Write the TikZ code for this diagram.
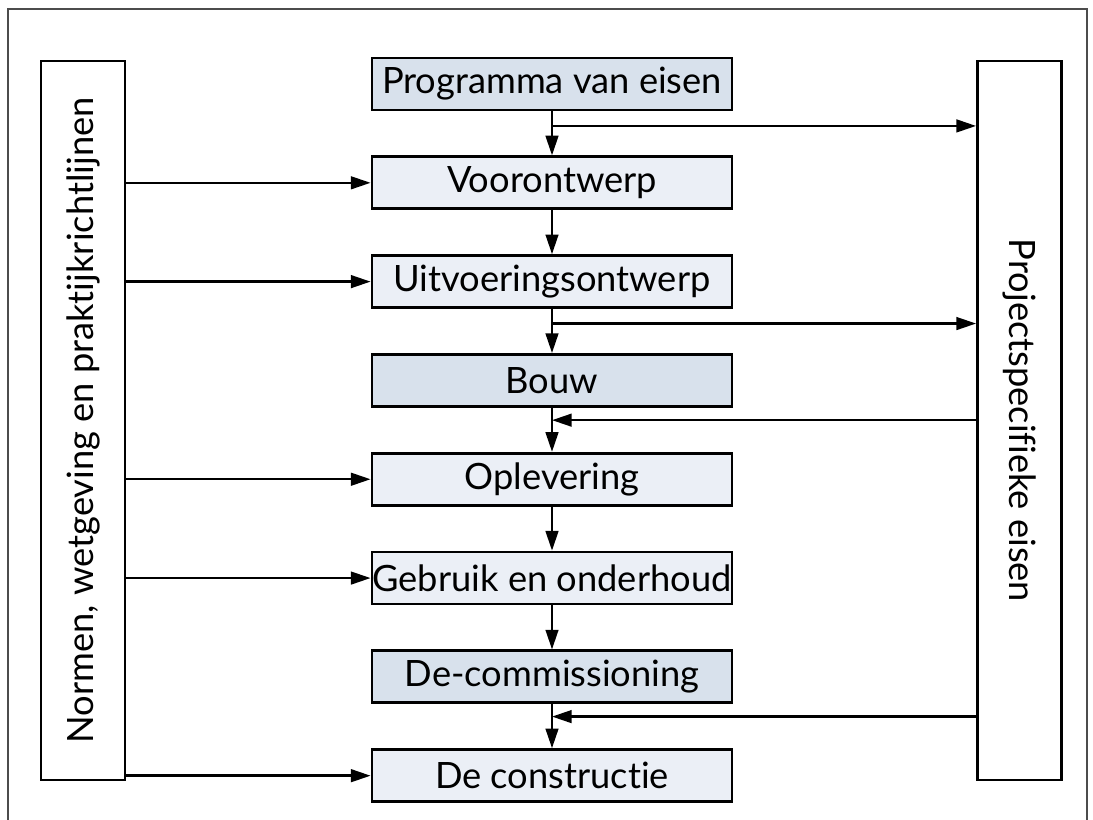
\documentclass[tikz,border=0pt]{standalone}
\usepackage{fontspec}
\setmainfont[Ligatures={NoCommon}]{Lato}
\usetikzlibrary{positioning,arrows.meta,calc}
\definecolor{stapdonker}{RGB}{216,225,236}
\definecolor{staplicht}{RGB}{235,239,246}
\tikzset{
  stap/.style={draw, line width=2pt, minimum width=9cm, minimum height=1.3cm,
    inner sep=0pt, font=\fontsize{25.8}{28}\selectfont},
  zijbalk/.style={draw, line width=2pt, minimum width=2.1cm, minimum height=17.975cm,
    inner sep=0pt, font=\fontsize{25.8}{28}\selectfont},
  pijl/.style={line width=1.7pt, -{Triangle[length=14pt,width=9pt]}},
}
\begin{document}
\begin{tikzpicture}[node distance=1.1cm]
        \useasboundingbox (0,0) rectangle (27.325,-20.5);
        % kader, onderkant open
        \draw[gray!60!black, line width=1pt] (0.2,-20.5) -- (0.2,-0.225) -- (27.175,-0.225) -- (27.175,-20.5);

        % de stappen
        \node[stap, fill=stapdonker] (pve) at (13.8,-2.1) {Programma van eisen};
        \node[stap, fill=staplicht, below=of pve] (vo) {Voorontwerp};
        \node[stap, fill=staplicht, below=of vo] (uo) {Uitvoeringsontwerp};
        \node[stap, fill=stapdonker, below=of uo] (bouw) {Bouw};
        \node[stap, fill=staplicht, below=of bouw] (opl) {Oplevering};
        \node[stap, fill=staplicht, below=of opl] (gebr) {Gebruik en onderhoud};
        \node[stap, fill=stapdonker, below=of gebr] (dec) {De-commissioning};
        \node[stap, fill=staplicht, below=of dec] (constr) {De constructie};

        % zijbalken
        \node[zijbalk] (normen) at (2.075,-10.5125) {\rotatebox{90}{Normen, wetgeving en praktijkrichtlijnen}};
        \node[zijbalk] (eisen) at (25.4875,-10.5125) {\rotatebox{-90}{Projectspecifieke eisen}};

        \foreach \a/\b in {pve/vo, vo/uo, uo/bouw, bouw/opl, opl/gebr, gebr/dec, dec/constr}
            \draw[pijl] (\a) -- (\b);

        \foreach \s in {vo, uo, opl, gebr, constr}
            \draw[pijl] (normen.east |- \s.west) -- (\s.west);

        % naar en van de projecteisen
        \coordinate (t1) at ($(pve.south)!0.33!(vo.north)$);
        \coordinate (t2) at ($(uo.south)!0.33!(bouw.north)$);
        \coordinate (t3) at ($(bouw.south)!0.28!(opl.north)$);
        \coordinate (t4) at ($(dec.south)!0.28!(constr.north)$);
        \draw[pijl] (t1) -- (t1 -| eisen.west);
        \draw[pijl] (t2) -- (t2 -| eisen.west);
        \draw[pijl] (eisen.west |- t3) -- (t3);
        \draw[pijl] (eisen.west |- t4) -- (t4);
\end{tikzpicture}
\end{document}
